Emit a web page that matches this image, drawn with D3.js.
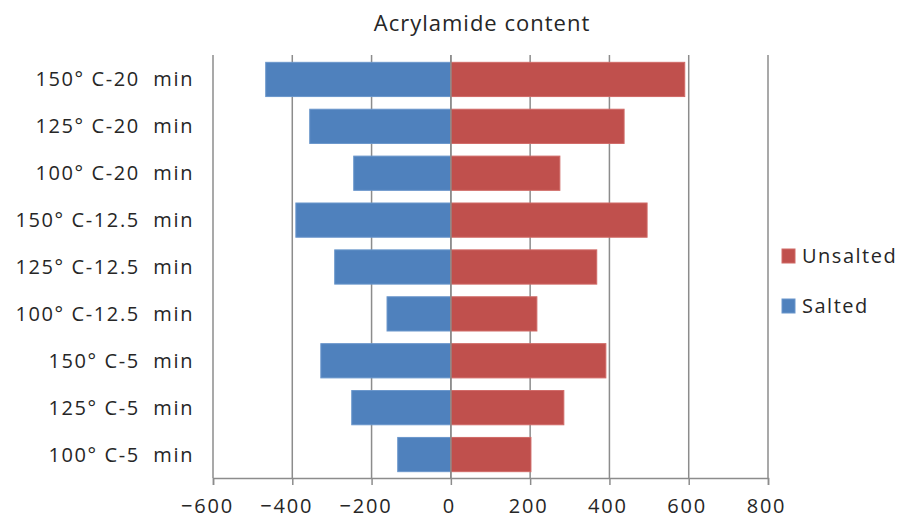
<!DOCTYPE html>
<html>
<head>
<meta charset="utf-8">
<script src="https://cdn.jsdelivr.net/npm/d3@7"></script>
<style>
  html, body { margin: 0; padding: 0; background: #fff; }
  svg { display: block; }
  text { font-family: "Open Sans", Lato, sans-serif; fill: #262626; }
</style>
</head>
<body>
<svg id="chart" width="914" height="521"></svg>
<script>
// Acrylamide content by frying temperature and time, salted vs unsalted
const categories = [
  "150° C-20  min", "125° C-20  min", "100° C-20  min",
  "150° C-12.5  min", "125° C-12.5  min", "100° C-12.5  min",
  "150° C-5  min", "125° C-5  min", "100° C-5  min"
];
const salted   = [-467, -356, -245, -391, -293, -161, -328, -250, -134];
const unsalted = [590, 437, 275, 495, 368, 217, 391, 285, 202];
const xTicks = [-600, -400, -200, 0, 200, 400, 600, 800];
const seriesNames = ["Unsalted", "Salted"];
const seriesColors = { Unsalted: "#C0504D", Salted: "#4F81BD" };
const seriesStroke = { Unsalted: "#D06A67", Salted: "#6A96CB" };

const svg = d3.select("#chart");
const plot = { left: 213, right: 768, top: 56, bottom: 478 };
const gridColor = "#8C8C8C";

const x = d3.scaleLinear().domain([-600, 800]).range([plot.left, plot.right]);
const y = d3.scaleBand().domain(categories).range([plot.top, plot.bottom]).paddingInner(0.27).paddingOuter(0.135);

// vertical gridlines
svg.append("g")
  .selectAll("line")
  .data(xTicks)
  .join("line")
  .attr("x1", d => x(d)).attr("x2", d => x(d))
  .attr("y1", plot.top - 1).attr("y2", plot.bottom)
  .attr("stroke", gridColor).attr("stroke-width", 1.5);

// bars
const rows = categories.map((c, i) => ({ c, s: salted[i], u: unsalted[i] }));
const bars = svg.append("g");
bars.selectAll("rect.salted")
  .data(rows).join("rect").attr("class", "salted")
  .attr("x", d => x(d.s)).attr("width", d => x(0) - x(d.s))
  .attr("y", d => y(d.c)).attr("height", y.bandwidth())
  .attr("fill", seriesColors.Salted).attr("stroke", seriesStroke.Salted).attr("stroke-width", 1);
bars.selectAll("rect.unsalted")
  .data(rows).join("rect").attr("class", "unsalted")
  .attr("x", x(0)).attr("width", d => x(d.u) - x(0))
  .attr("y", d => y(d.c)).attr("height", y.bandwidth())
  .attr("fill", seriesColors.Unsalted).attr("stroke", seriesStroke.Unsalted).attr("stroke-width", 1);

// zero line drawn over bars
svg.append("line")
  .attr("x1", x(0)).attr("x2", x(0)).attr("y1", plot.top - 1).attr("y2", plot.bottom)
  .attr("stroke", gridColor).attr("stroke-width", 1.5);

// bottom axis
const xAxis = d3.axisBottom(x).tickValues(xTicks).tickSize(7).tickPadding(14)
  .tickFormat(d => d3.format("d")(d).replace("-", "\u2212"));
const gx = svg.append("g").attr("transform", `translate(0,${plot.bottom})`).call(xAxis);
gx.select(".domain").attr("stroke", gridColor).attr("stroke-width", 1.5);
gx.selectAll(".tick line").attr("stroke", gridColor).attr("stroke-width", 1.5);
gx.selectAll(".tick text").attr("font-size", 20).attr("fill", "#262626")
  .attr("letter-spacing", 1.8)
  .attr("dx", d => d < 0 ? -6 : -2)
  .style("font-family", "'Open Sans', Lato, sans-serif");

// category labels
svg.append("g")
  .selectAll("text")
  .data(categories)
  .join("text")
  .attr("x", 194)
  .attr("y", d => y(d) + y.bandwidth() / 2)
  .attr("dy", "0.35em")
  .attr("text-anchor", "end")
  .attr("font-size", 20)
  .attr("letter-spacing", 1.6)
  .style("white-space", "pre")
  .text(d => d);

// title
svg.append("text")
  .attr("x", 482).attr("y", 31)
  .attr("text-anchor", "middle")
  .attr("font-size", 22)
  .attr("letter-spacing", 1)
  .text("Acrylamide content");

// legend
const legend = svg.append("g");
seriesNames.forEach((name, i) => {
  const ly = 256 + i * 50;
  legend.append("rect")
    .attr("x", 782).attr("y", ly - 7).attr("width", 13).attr("height", 14)
    .attr("fill", seriesColors[name]).attr("stroke", seriesStroke[name]);
  legend.append("text")
    .attr("x", 802).attr("y", ly).attr("dy", "0.35em")
    .attr("font-size", 20)
    .attr("letter-spacing", 1.5)
    .text(name);
});
</script>
</body>
</html>
